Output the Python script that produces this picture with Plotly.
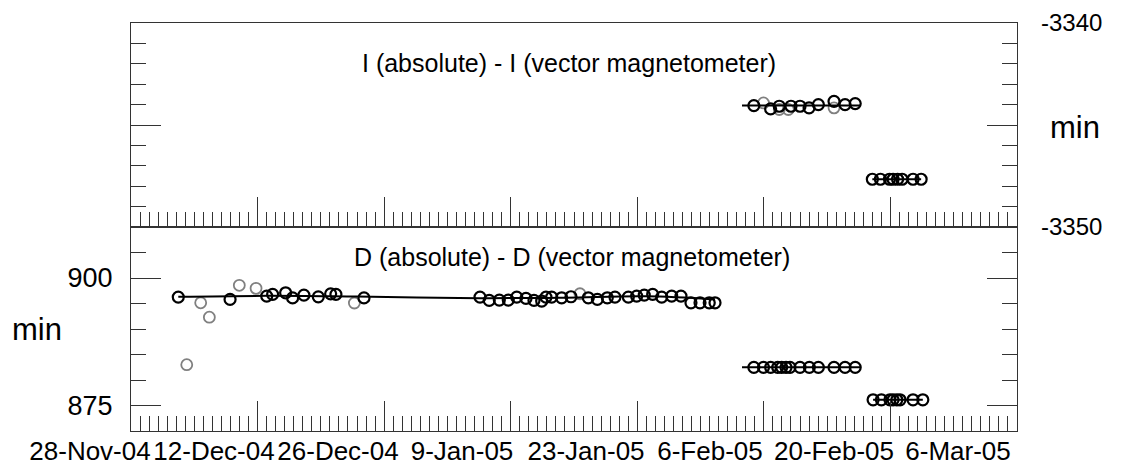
import plotly.graph_objects as go
import pandas as pd

# ---------------- data ----------------
# Top panel: I (absolute) - I (vector magnetometer), min
I_fit1_dates = ["2005-02-03 14:00", "2005-02-16 17:00"]
I_fit1_vals = [-3344.05, -3344.05]
I_black_dates = ["2005-02-04 21:30", "2005-02-06 18:00", "2005-02-07 16:50", "2005-02-09 00:00",
                 "2005-02-10 00:00", "2005-02-11 00:00", "2005-02-12 00:45", "2005-02-13 18:15",
                 "2005-02-14 23:30", "2005-02-16 02:30"]
I_black_vals = [-3344.05, -3344.21, -3344.08, -3344.08, -3344.08, -3344.16, -3344.0, -3343.84,
                -3344.0, -3343.95]
I_gray_dates = ["2005-02-05 23:00", "2005-02-07 16:50", "2005-02-08 16:50", "2005-02-13 18:15"]
I_gray_vals = [-3343.92, -3344.24, -3344.24, -3344.16]
I_c_dates = ["2005-02-18 00:00", "2005-02-18 21:30", "2005-02-19 21:30", "2005-02-20 07:00",
             "2005-02-20 19:00", "2005-02-21 07:00", "2005-02-22 12:00", "2005-02-23 09:30"]
I_c_vals = [-3347.66, -3347.66, -3347.66, -3347.66, -3347.66, -3347.66, -3347.66, -3347.66]

# Bottom panel: D (absolute) - D (vector magnetometer), min
D_fit1_dates = ["2004-12-03 05:30", "2004-12-13 00:00", "2004-12-23 00:00", "2005-01-05 14:30",
                "2005-01-15 00:00", "2005-01-24 00:00", "2005-01-31 14:20"]
D_fit1_vals = [896.3, 896.5, 896.35, 896.05, 896.15, 896.4, 895.8]
D_black_dates = ["2004-12-03 05:30", "2004-12-08 23:00", "2004-12-13 00:15", "2004-12-13 16:00",
                 "2004-12-15 02:30", "2004-12-15 21:00", "2004-12-17 03:00", "2004-12-18 17:15",
                 "2004-12-20 02:00", "2004-12-20 16:00", "2004-12-23 18:30",
                 "2005-01-05 14:30", "2005-01-06 15:00", "2005-01-07 17:45", "2005-01-08 17:30",
                 "2005-01-09 16:00", "2005-01-10 16:30", "2005-01-11 13:45", "2005-01-12 10:15",
                 "2005-01-12 21:30", "2005-01-13 12:45", "2005-01-14 15:15", "2005-01-15 16:00",
                 "2005-01-17 14:00", "2005-01-18 14:00", "2005-01-19 16:20", "2005-01-20 12:45",
                 "2005-01-22 00:15", "2005-01-22 22:20", "2005-01-23 18:30", "2005-01-24 16:50",
                 "2005-01-25 16:50", "2005-01-26 19:20", "2005-01-27 20:00", "2005-01-28 22:30",
                 "2005-01-29 22:30", "2005-01-30 23:00", "2005-01-31 14:20"]
D_black_vals = [896.26, 895.8, 896.46, 896.8, 897.1, 896.1, 896.65, 896.3, 896.9, 896.8, 896.1,
                896.26, 895.61, 895.67, 895.67, 896.26, 896.0, 895.61, 895.47, 896.26, 896.26,
                896.12, 896.32, 896.12, 895.81, 896.12, 896.26, 896.26, 896.46, 896.65, 896.79,
                896.26, 896.46, 896.46, 895.14, 895.14, 895.14, 895.14]
D_gray_dates = ["2004-12-04 04:00", "2004-12-05 17:00", "2004-12-06 16:00", "2004-12-09 23:30",
                "2004-12-11 20:00", "2004-12-22 17:00", "2005-01-16 15:50"]
D_gray_vals = [883.0, 895.14, 892.32, 898.56, 897.97, 895.1, 896.91]
D_fit2_dates = ["2005-02-03 14:00", "2005-02-16 17:00"]
D_fit2_vals = [882.48, 882.48]
D_b_dates = ["2005-02-04 21:30", "2005-02-05 23:00", "2005-02-06 18:00", "2005-02-07 12:45",
             "2005-02-07 23:15", "2005-02-08 10:50", "2005-02-08 21:20", "2005-02-10 00:00",
             "2005-02-11 00:45", "2005-02-12 00:45", "2005-02-13 18:15", "2005-02-14 23:30",
             "2005-02-16 02:30"]
D_b_vals = [882.48] * 13
D_c_dates = ["2005-02-18 02:00", "2005-02-19 00:00", "2005-02-19 22:45", "2005-02-20 07:00",
             "2005-02-20 17:00", "2005-02-21 01:30", "2005-02-22 12:00", "2005-02-23 14:00"]
D_c_vals = [876.12] * 8

x_range = ["2004-11-28", "2005-03-06"]
x_tick_dates = ["2004-11-28", "2004-12-12", "2004-12-26", "2005-01-09",
                "2005-01-23", "2005-02-06", "2005-02-20", "2005-03-06"]
x_tick_labels = ["28-Nov-04", "12-Dec-04", "26-Dec-04", "9-Jan-05",
                 "23-Jan-05", "6-Feb-05", "20-Feb-05", "6-Mar-05"]
I_tickvals = [-3350, -3345, -3340]
I_ticktext = ["-3350", "", "-3340"]
D_tickvals = [875, 900]
D_ticktext = ["875", "900"]

# ---------------- layout geometry (screen pixels; page body has an 8px margin) ----------------
OFF = 8
W, H = 1123 - OFF, 470 - OFF
ML, MR, MT, MB = 10, 10, 23 - OFF, 39
FRAME_L, FRAME_R = 131, 1017
AW = W - ML - MR
AH = H - MT - MB

def px2dom(p):            # screen x -> paper fraction
    return (p - OFF - ML) / AW

def py2dom(p):            # screen y -> paper fraction
    return (H - MB - (p - OFF)) / AH

# date-label row of the original is laid out on its own spacing
LAB_C0, LAB_STEP = 90.0, 124.0
base = pd.Timestamp(x_tick_dates[0])
def lab_px2date(p):
    return base + pd.Timedelta(days=(p - LAB_C0) / LAB_STEP * 14)

FONT = "Arial, Liberation Sans, sans-serif"
AX = "#333333"
DAY = 86400000

fig = go.Figure()

def line(x, y, xa, ya, shape="linear"):
    fig.add_trace(go.Scatter(x=x, y=y, mode="lines", xaxis=xa, yaxis=ya,
                             line=dict(color="black", width=2, shape=shape), hoverinfo="skip"))

def pts(x, y, xa, ya, color, w):
    fig.add_trace(go.Scatter(x=x, y=y, mode="markers", xaxis=xa, yaxis=ya,
                             marker=dict(symbol="circle-open", size=11, color=color,
                                         line=dict(color=color, width=w))))

# top panel
pts(I_gray_dates, I_gray_vals, "x", "y", "#808080", 1.8)
line(I_fit1_dates, I_fit1_vals, "x", "y")
pts(I_black_dates, I_black_vals, "x", "y", "black", 2.2)
line([I_c_dates[0], I_c_dates[-1]], [I_c_vals[0], I_c_vals[-1]], "x", "y")
pts(I_c_dates, I_c_vals, "x", "y", "black", 2.2)

# bottom panel
pts(D_gray_dates, D_gray_vals, "x2", "y2", "#808080", 1.8)
line(D_fit1_dates, D_fit1_vals, "x2", "y2", "spline")
pts(D_black_dates, D_black_vals, "x2", "y2", "black", 2.2)
line(D_fit2_dates, D_fit2_vals, "x2", "y2")
pts(D_b_dates, D_b_vals, "x2", "y2", "black", 2.2)
line([D_c_dates[0], D_c_dates[-1]], [D_c_vals[0], D_c_vals[-1]], "x2", "y2")
pts(D_c_dates, D_c_vals, "x2", "y2", "black", 2.2)

# label-only axis for the date labels
fig.add_trace(go.Scatter(x=[], y=[], xaxis="x3", yaxis="y2", mode="markers", hoverinfo="skip"))

dom = [px2dom(FRAME_L), px2dom(FRAME_R)]
xcommon = dict(type="date", range=x_range, domain=dom, tickmode="linear", tick0=x_tick_dates[0],
               dtick=14 * DAY, showticklabels=False,
               ticks="inside", ticklen=30, tickwidth=1, tickcolor=AX,
               minor=dict(ticks="inside", ticklen=15, tickwidth=1, tickcolor=AX,
                          dtick=DAY, tick0=x_tick_dates[0]),
               showline=True, linecolor=AX, linewidth=1.3, mirror=True,
               showgrid=False, zeroline=False, fixedrange=True, automargin=False)
ycommon = dict(tickmode="array", ticks="inside", ticklen=30, tickwidth=1, tickcolor=AX,
               showline=True, linecolor=AX, linewidth=1.3, mirror="ticks",
               showgrid=False, zeroline=False, fixedrange=True, automargin=False)

fig.update_layout(
    template="none",
    width=W, height=H,
    margin=dict(l=ML, r=MR, t=MT, b=MB, pad=0),
    paper_bgcolor="white", plot_bgcolor="rgba(0,0,0,0)",
    showlegend=False,
    font=dict(family=FONT, color="black", size=23),
    xaxis=dict(xcommon, anchor="y"),
    xaxis2=dict(xcommon, anchor="y2"),
    xaxis3=dict(type="date", domain=[0, 1], anchor="y2",
                range=[lab_px2date(OFF + ML), lab_px2date(OFF + W - MR)],
                tickmode="array", tickvals=x_tick_dates, ticktext=x_tick_labels,
                ticks="", showline=False, showgrid=False, zeroline=False,
                fixedrange=True, automargin=False, ticklabelstandoff=2,
                tickfont=dict(size=26, family=FONT, color="black")),
    yaxis=dict(ycommon, domain=[0.5, 1], anchor="x", side="right", range=[-3350, -3340],
               tickvals=I_tickvals, ticktext=I_ticktext,
               minor=dict(ticks="inside", ticklen=15, tickwidth=1, tickcolor=AX, dtick=1,
                          tick0=-3350, tickmode="linear"),
               tickfont=dict(size=24, family=FONT, color="black"), ticklabelstandoff=18),
    yaxis2=dict(ycommon, domain=[0, 0.5], anchor="x2", side="left", range=[870, 910],
                tickvals=D_tickvals, ticktext=D_ticktext,
                minor=dict(ticks="inside", ticklen=15, tickwidth=1, tickcolor=AX, dtick=5,
                           tick0=870, tickmode="linear"),
                tickfont=dict(size=27, family=FONT, color="black"), ticklabelstandoff=12),
)

def note(text, x, y, size):
    fig.add_annotation(text=text, xref="paper", yref="paper", x=px2dom(x), y=py2dom(y),
                       xanchor="center", yanchor="middle", showarrow=False,
                       font=dict(size=size, family=FONT, color="black"))

note("I (absolute) - I (vector magnetometer)", 569, 63, 25)
note("D (absolute) - D (vector magnetometer)", 572, 257, 25)
note("min", 1075, 127, 31)
note("min", 37, 329, 31)

fig.write_html("out.html")
